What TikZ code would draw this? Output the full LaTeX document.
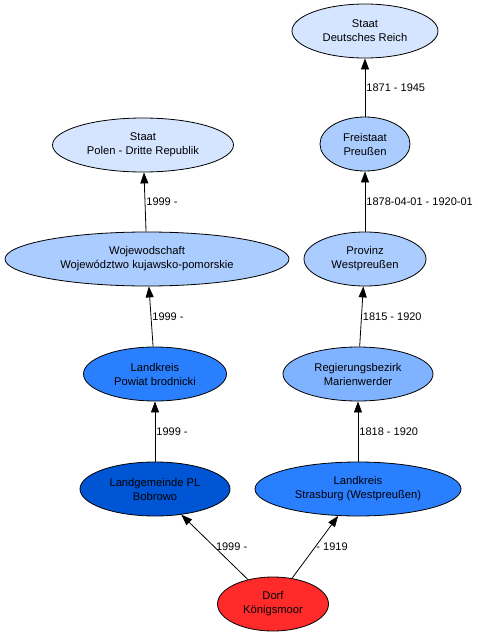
\documentclass[tikz,border=0pt]{standalone}
\usepackage{fontspec}
\setmainfont{Liberation Sans}
\usetikzlibrary{shapes.geometric,arrows.meta}

\definecolor{hellblau}{HTML}{D5E5FF}
\definecolor{blassblau}{HTML}{AACCFF}
\definecolor{mittelblau}{HTML}{80B3FF}
\definecolor{kraeftigblau}{HTML}{2A7FFF}
\definecolor{dunkelblau}{HTML}{0055D4}
\definecolor{dorfrot}{HTML}{FF2A2A}

\tikzset{
    einheit/.style={ellipse, draw=black, thick, inner sep=0pt, align=center,
        font=\fontsize{11.2}{14}\selectfont, minimum height=54pt},
    pfeil/.style={-{Triangle[length=11pt,width=8pt]}, thick},
    zeit/.style={right, inner sep=1pt, font=\fontsize{11}{13}\selectfont}
}

\begin{document}
\begin{tikzpicture}[x=1pt,y=-1pt]
            \useasboundingbox (0,0) rectangle (477,637);

            \node[einheit, fill=hellblau, minimum width=146pt] (reich) at (365,31) {Staat\\Deutsches Reich};
            \node[einheit, fill=blassblau, minimum width=90pt] (preussen) at (365,144) {Freistaat\\Preußen};
            \node[einheit, fill=blassblau, minimum width=122pt] (provinz) at (365,259) {Provinz\\Westpreußen};
            \node[einheit, fill=mittelblau, minimum width=150pt] (bezirk) at (358,374) {Regierungsbezirk\\Marienwerder};
            \node[einheit, fill=kraeftigblau, minimum width=206pt] (strasburg) at (358,489) {Landkreis\\Strasburg (Westpreußen)};

            \node[einheit, fill=hellblau, minimum width=181pt] (polen) at (143,145) {Staat\\Polen - Dritte Republik};
            \node[einheit, fill=blassblau, minimum width=284pt] (woj) at (147,259) {Wojewodschaft\\Województwo kujawsko-pomorskie};
            \node[einheit, fill=kraeftigblau, minimum width=143pt] (powiat) at (155,374) {Landkreis\\Powiat brodnicki};
            \node[einheit, fill=dunkelblau, minimum width=150pt] (bobrowo) at (155,489) {Landgemeinde PL\\Bobrowo};

            \node[einheit, fill=dorfrot, minimum width=111pt] (dorf) at (273,604) {Dorf\\Königsmoor};

            \draw[pfeil] (dorf) -- node[zeit] {1999 -} (bobrowo);
            \draw[pfeil] (dorf) -- node[zeit] {- 1919} (strasburg);
            \draw[pfeil] (bobrowo) -- node[zeit] {1999 -} (powiat);
            \draw[pfeil] (powiat) -- node[zeit] {1999 -} (woj);
            \draw[pfeil] (woj) -- node[zeit] {1999 -} (polen);
            \draw[pfeil] (strasburg) -- node[zeit] {1818 - 1920} (bezirk);
            \draw[pfeil] (bezirk) -- node[zeit] {1815 - 1920} (provinz);
            \draw[pfeil] (provinz) -- node[zeit] {1878-04-01 - 1920-01} (preussen);
            \draw[pfeil] (preussen) -- node[zeit] {1871 - 1945} (reich);
\end{tikzpicture}
\end{document}
